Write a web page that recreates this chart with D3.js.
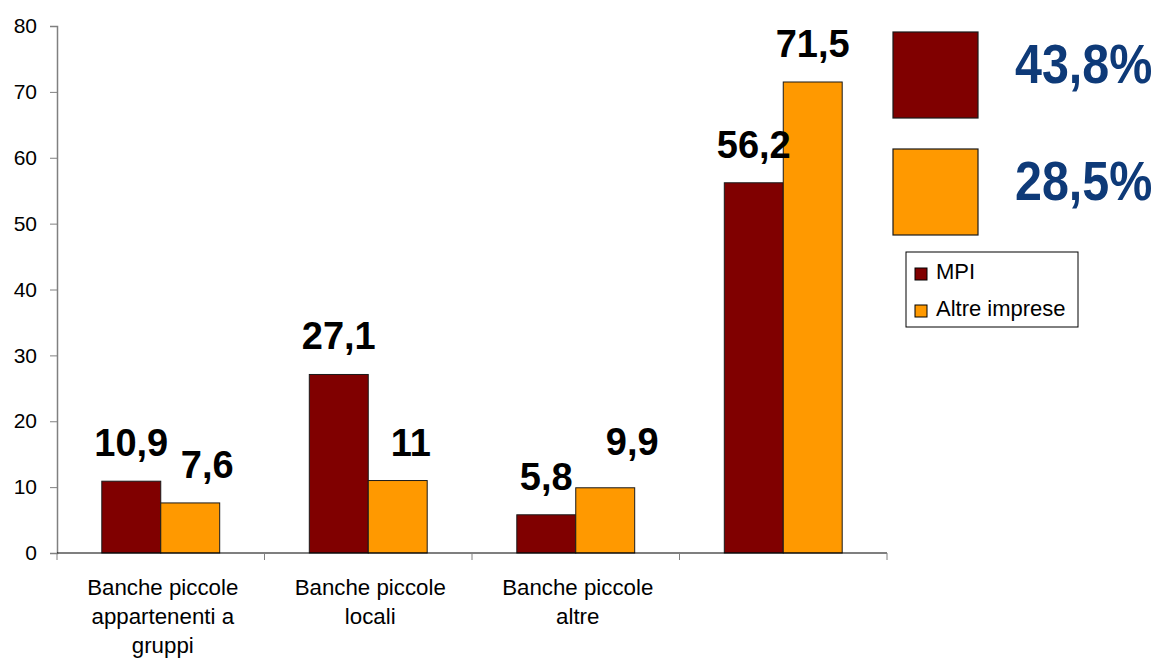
<!DOCTYPE html>
<html>
<head>
<meta charset="utf-8">
<script src="https://cdn.jsdelivr.net/npm/d3@7"></script>
<style>
  body { margin: 0; background: #fff; }
  text { font-family: "Liberation Sans", Arial, sans-serif; }
</style>
</head>
<body>
<div id="wrapper"></div>
<script>
// data
const categories = [
  ["Banche piccole", "appartenenti a", "gruppi"],
  ["Banche piccole", "locali"],
  ["Banche piccole", "altre"],
  [""],
];
const seriesNames = ["MPI", "Altre imprese"];
const mpiValues = [10.9, 27.1, 5.8, 56.2];
const altreValues = [7.6, 11, 9.9, 71.5];
const shareLabels = ["43,8%", "28,5%"];
const yTicks = [0, 10, 20, 30, 40, 50, 60, 70, 80];

// manual label nudges (as moved by hand in the original)
const labelNudge = [
  [[0, 0], [17, 0]],
  [[0, 0], [13, 0]],
  [[0, 0], [27, -8]],
  [[0, 0], [0, 0]],
];

const colors = { MPI: "#800000", "Altre imprese": "#FF9900" };
const fmt = (v) => String(v).replace(".", ",");

const width = 1156;
const height = 659;
const plot = { left: 57, right: 887, top: 26, bottom: 553 };

const svg = d3
  .select("#wrapper")
  .append("svg")
  .attr("width", width)
  .attr("height", height);

const rows = categories.map((c, i) => ({
  idx: i,
  lines: c,
  values: [
    { key: seriesNames[0], value: mpiValues[i] },
    { key: seriesNames[1], value: altreValues[i] },
  ],
}));

// scales
const x0 = d3
  .scaleBand()
  .domain(d3.range(categories.length))
  .range([plot.left, plot.right])
  .padding(0);

const x1 = d3
  .scaleBand()
  .domain(seriesNames)
  .range([0, x0.bandwidth()])
  .paddingInner(0)
  .paddingOuter(0.76);

const y = d3.scaleLinear().domain([0, 80]).range([plot.bottom, plot.top]);

// bars
const groups = svg
  .selectAll(".grp")
  .data(rows)
  .join("g")
  .attr("class", "grp")
  .attr("transform", (d) => `translate(${x0(d.idx)},0)`);

groups
  .selectAll("rect")
  .data((d) => d.values)
  .join("rect")
  .attr("x", (d) => x1(d.key))
  .attr("y", (d) => y(d.value))
  .attr("width", x1.bandwidth())
  .attr("height", (d) => y(0) - y(d.value))
  .attr("fill", (d) => colors[d.key])
  .attr("stroke", "#1a1a1a")
  .attr("stroke-width", 1);

// value labels
groups
  .selectAll(".val")
  .data((d) => d.values.map((v, j) => ({ ...v, nudge: labelNudge[d.idx][j] })))
  .join("text")
  .attr("class", "val")
  .attr("x", (d) => x1(d.key) + x1.bandwidth() / 2 + d.nudge[0])
  .attr("y", (d) => y(d.value) - 25 + d.nudge[1])
  .attr("text-anchor", "middle")
  .attr("font-size", 38)
  .attr("font-weight", "bold")
  .attr("fill", "#000")
  .text((d) => fmt(d.value));

// y axis
const yAxis = svg
  .append("g")
  .attr("transform", `translate(${plot.left},0)`)
  .call(d3.axisLeft(y).tickValues(yTicks).tickSize(7).tickPadding(13));
yAxis.select(".domain").attr("stroke", "#808080").attr("stroke-width", 1.5);
yAxis.selectAll(".tick line").attr("stroke", "#808080");
yAxis
  .selectAll(".tick text")
  .attr("font-size", 21)
  .attr("fill", "#000")
  .style("font-family", "'Liberation Sans', Arial, sans-serif");

// x axis
const xEdges = d3.range(categories.length + 1).map((i) =>
  i < categories.length ? x0(i) : plot.right
);
svg
  .append("line")
  .attr("x1", plot.left)
  .attr("x2", plot.right)
  .attr("y1", y(0))
  .attr("y2", y(0))
  .attr("stroke", "#000")
  .attr("stroke-width", 1.2);
svg
  .selectAll(".xtick")
  .data(xEdges)
  .join("line")
  .attr("class", "xtick")
  .attr("x1", (d) => d)
  .attr("x2", (d) => d)
  .attr("y1", y(0))
  .attr("y2", y(0) + 7)
  .attr("stroke", "#808080");

const catText = svg
  .selectAll(".cat")
  .data(rows)
  .join("text")
  .attr("class", "cat")
  .attr("text-anchor", "middle")
  .attr("font-size", 23)
  .attr("fill", "#000")
  .attr("transform", (d) => `translate(${x0(d.idx) + x0.bandwidth() / 2 + 2},595) scale(0.97,1)`);
catText
  .selectAll("tspan")
  .data((d) => d.lines)
  .join("tspan")
  .attr("x", 0)
  .attr("y", (d, i) => i * 29)
  .text((d) => d);

// big coloured squares with shares
const shares = svg
  .selectAll(".share")
  .data(seriesNames.map((k, i) => ({ key: k, label: shareLabels[i], i })))
  .join("g")
  .attr("class", "share")
  .attr("transform", (d) => `translate(893,${32 + d.i * 117})`);
shares
  .append("rect")
  .attr("width", 85)
  .attr("height", 86)
  .attr("fill", (d) => colors[d.key])
  .attr("stroke", "#1a1a1a")
  .attr("stroke-width", 1.2);
shares
  .append("text")
  .attr("transform", "translate(122,51) scale(0.88,1)")
  .attr("font-size", 55)
  .attr("font-weight", "bold")
  .attr("fill", "#0E3A78")
  .text((d) => d.label);

// legend
const legend = svg.append("g").attr("transform", "translate(906,252)");
legend
  .append("rect")
  .attr("width", 172)
  .attr("height", 75)
  .attr("fill", "#fff")
  .attr("stroke", "#000")
  .attr("stroke-width", 1);
const items = legend
  .selectAll(".item")
  .data(seriesNames)
  .join("g")
  .attr("class", "item")
  .attr("transform", (d, i) => `translate(9,${16 + i * 37})`);
items
  .append("rect")
  .attr("width", 12)
  .attr("height", 12)
  .attr("fill", (d) => colors[d])
  .attr("stroke", "#000")
  .attr("stroke-width", 1);
items
  .append("text")
  .attr("x", 21)
  .attr("y", 11)
  .attr("font-size", 22)
  .attr("fill", "#000")
  .text((d) => d);
</script>
</body>
</html>
